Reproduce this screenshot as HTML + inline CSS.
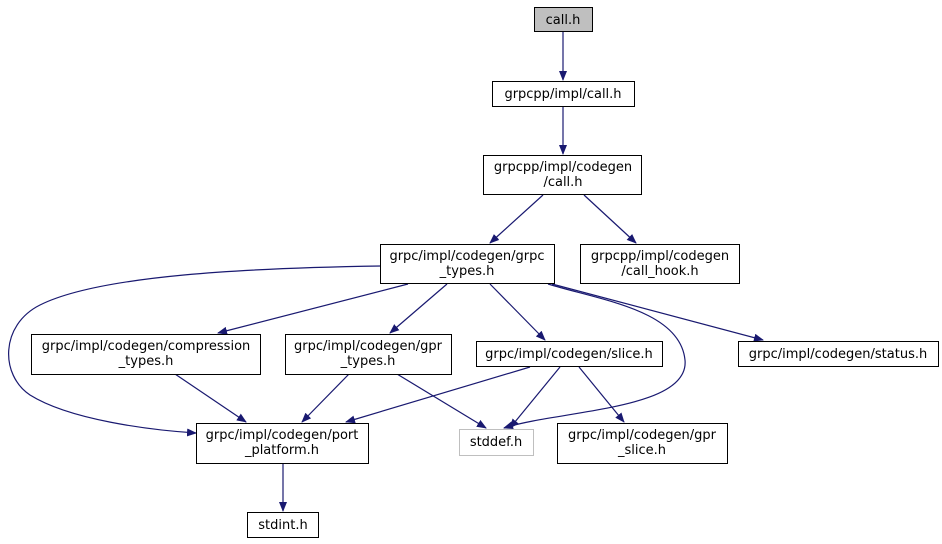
<!DOCTYPE html>
<html><head><meta charset="utf-8"><style>
html,body{margin:0;padding:0;background:#fff;width:942px;height:544px;overflow:hidden}
text{font-family:"DejaVu Sans","Liberation Sans",sans-serif;font-size:13px;fill:#000}
</style></head><body>
<svg width="942" height="544" viewBox="0 0 942 544" xmlns="http://www.w3.org/2000/svg">
<defs><marker id="a" markerWidth="10" markerHeight="8" refX="9" refY="4" orient="auto" markerUnits="userSpaceOnUse"><path d="M0,0 L10,4 L0,8 Z" fill="#191970"/></marker></defs>
<g fill="none" stroke="#191970" stroke-width="1.2" marker-end="url(#a)">
<path d="M563,32 L563,80"/>
<path d="M563,107 L563,154"/>
<path d="M543,195 L490,243"/>
<path d="M584,195 L636,243"/>
<path d="M381,266 C250,268 100,275 40,305 C0,325 0,375 30,395 C70,420 150,430 196,433"/>
<path d="M408,284 L218,333"/>
<path d="M447,284 L390,333"/>
<path d="M490,284 L545,340"/>
<path d="M548,284 C600,300 680,310 685,360 C690,410 560,410 504,428"/>
<path d="M552,284 L763,340"/>
<path d="M175,374 L246,422"/>
<path d="M349,374 L302,422"/>
<path d="M397,374 L486,428"/>
<path d="M530,367 L346,422"/>
<path d="M560,367 L510,428"/>
<path d="M579,367 L624,422"/>
<path d="M283,463 L283,511"/>
</g>
<g stroke-width="1" fill="#fff">
<rect x="534.5" y="7.5" width="58" height="24" fill="#bfbfbf" stroke="#000"/>
<rect x="492.5" y="81.5" width="142" height="25" stroke="#000"/>
<rect x="483.5" y="155.5" width="158" height="39" stroke="#000"/>
<rect x="380.5" y="244.5" width="174" height="39" stroke="#000"/>
<rect x="580.5" y="244.5" width="159" height="39" stroke="#000"/>
<rect x="31.5" y="334.5" width="229" height="40" stroke="#000"/>
<rect x="285.5" y="334.5" width="166" height="40" stroke="#000"/>
<rect x="476.5" y="341.5" width="186" height="25" stroke="#000"/>
<rect x="738.5" y="341.5" width="200" height="25" stroke="#000"/>
<rect x="196.5" y="423.5" width="172" height="40" stroke="#000"/>
<rect x="459.5" y="429.5" width="74" height="26" stroke="#bfbfbf"/>
<rect x="557.5" y="423.5" width="170" height="40" stroke="#000"/>
<rect x="247.5" y="512.5" width="71" height="25" stroke="#000"/>
</g>
<g text-anchor="middle">
<text x="563" y="24">call.h</text>
<text x="563" y="98">grpcpp/impl/call.h</text>
<text x="563" y="171">grpcpp/impl/codegen</text><text x="563" y="186">/call.h</text>
<text x="467" y="260">grpc/impl/codegen/grpc</text><text x="467" y="275">_types.h</text>
<text x="660" y="260">grpcpp/impl/codegen</text><text x="660" y="275">/call_hook.h</text>
<text x="146" y="350">grpc/impl/codegen/compression</text><text x="146" y="365">_types.h</text>
<text x="368" y="350">grpc/impl/codegen/gpr</text><text x="368" y="365">_types.h</text>
<text x="569" y="358">grpc/impl/codegen/slice.h</text>
<text x="838" y="358">grpc/impl/codegen/status.h</text>
<text x="282" y="439">grpc/impl/codegen/port</text><text x="282" y="454">_platform.h</text>
<text x="496" y="446">stddef.h</text>
<text x="642" y="439">grpc/impl/codegen/gpr</text><text x="642" y="454">_slice.h</text>
<text x="283" y="529">stdint.h</text>
</g>
</svg>
</body></html>
